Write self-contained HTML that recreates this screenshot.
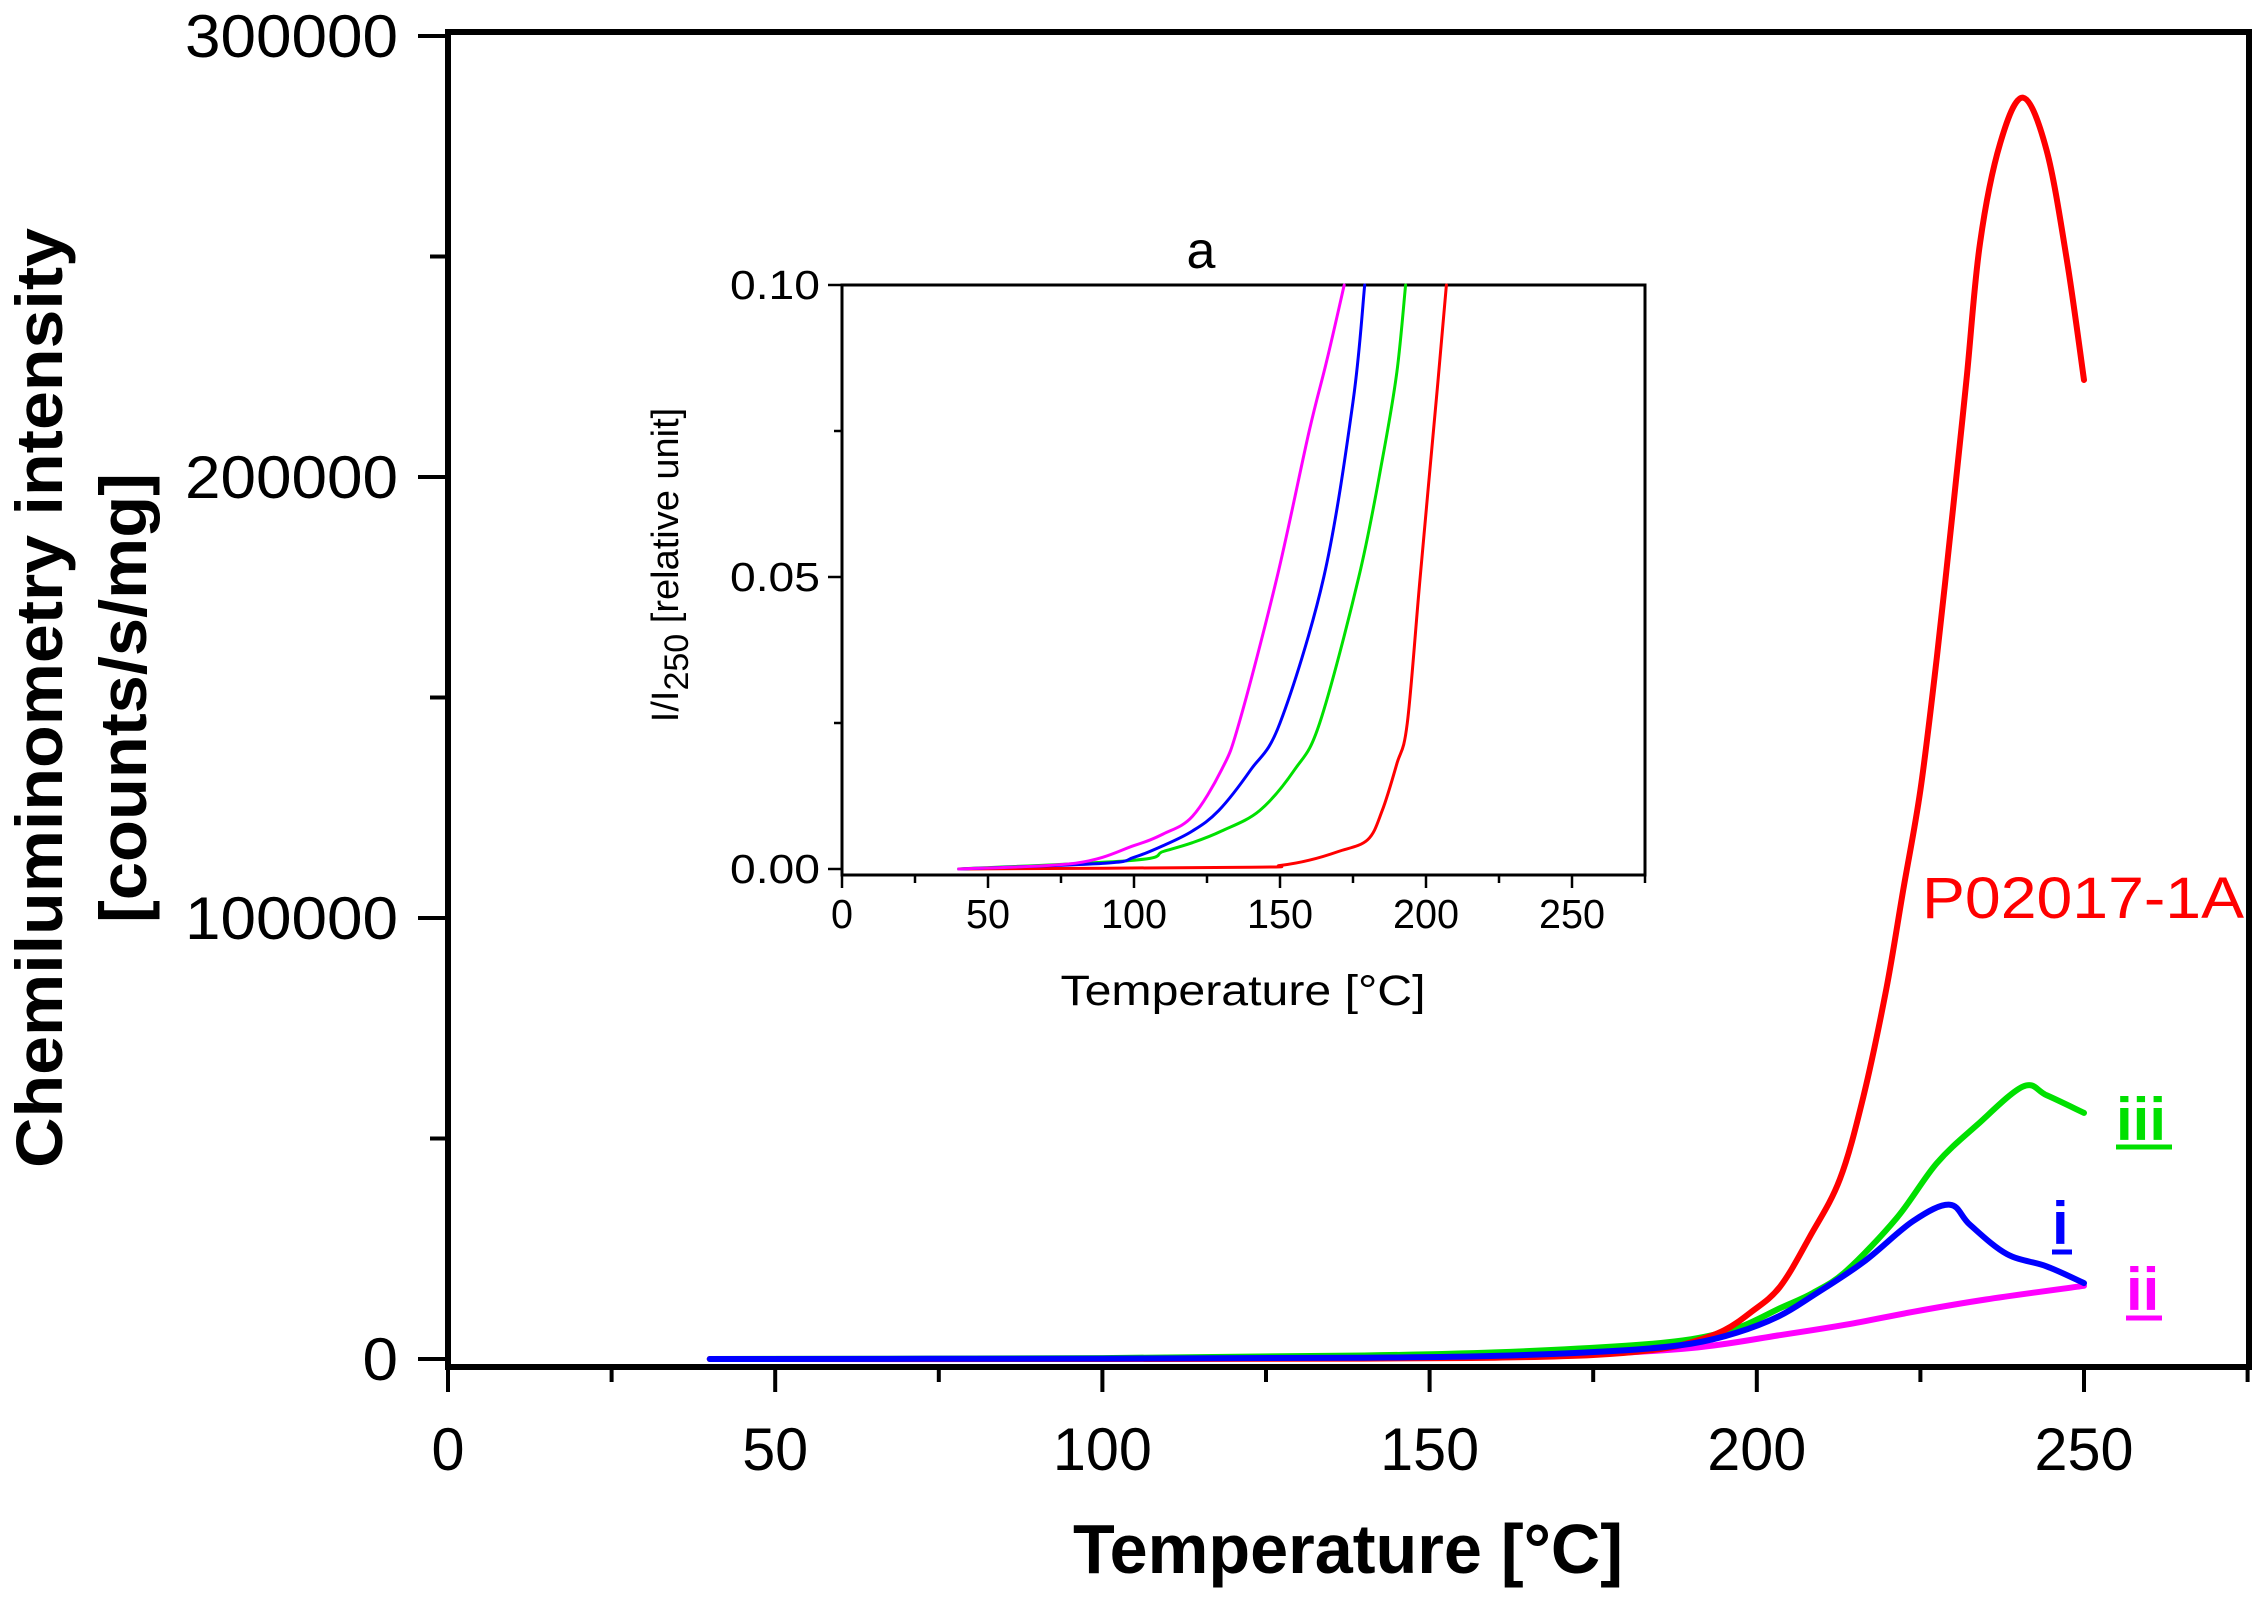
<!DOCTYPE html>
<html><head><meta charset="utf-8"><style>
html,body{margin:0;padding:0;background:#fff;}
svg{display:block;font-family:"Liberation Sans",Arial,sans-serif;}
</style></head><body>
<svg id="chart" width="2268" height="1602" viewBox="0 0 2268 1602">
<g id="main"></g>
<g id="inset"></g>
</svg>
<script>
// ---- main chart data (intensity, counts/s/mg) ----
const redX = [40,100,140,160,175,185,190,195,199,203.5,208.1,212.7,216.3,219.8,222.4,225,227.5,230,232.1,234.1,237.2,240.7,244.3,247.4,250];
const redY = [0,0,100,300,900,2200,3800,6500,10500,16300,27700,40800,59600,84000,106600,129000,159000,193000,223000,253000,275700,286000,274000,249000,222000];
const greenX = [40,100,140,160,180,190,197,203.5,208.6,213.7,221.4,227.5,233.6,240.7,244.3,250];
const greenY = [0,200,800,1500,3000,4500,7000,11500,15000,20000,32000,44400,53000,61800,59800,55800];
const blueX = [40,100,140,160,180,190,197,203.5,208.6,216.3,223.9,229.5,232.6,238.2,244.3,250];
const blueY = [0,100,300,700,2000,3500,6000,9800,14400,22000,31300,35000,30400,23800,21000,17200];
const magentaX = [40,100,150,170,190,203.5,213.7,223.9,235,250];
const magentaY = [0,0,300,800,2500,5400,7800,10700,13500,16600];
const mainXTicks = [0,50,100,150,200,250];
const mainYTicks = [0,100000,200000,300000];
// ---- inset data (I/I250) ----
const insMagX = [40,80,100,110,120,130,136,149,160,166,172];
const insMagY = [0,0.001,0.004,0.006,0.009,0.017,0.025,0.05,0.075,0.087,0.1];
const insBlueX = [40,90,100,110,120,129,140,150,165,175,179];
const insBlueY = [0,0.001,0.002,0.004,0.0065,0.01,0.017,0.025,0.05,0.08,0.1];
const insGreenX = [40,100,110,120,130,143,155,163.6,177,185,190,193];
const insGreenY = [0,0.0015,0.003,0.0045,0.0065,0.01,0.017,0.025,0.05,0.07,0.085,0.1];
const insRedX = [40,140,150,160,170,180,185,190,193.6,198,204,207];
const insRedY = [0,0.0003,0.0006,0.0015,0.003,0.005,0.01,0.018,0.025,0.05,0.083,0.1];
const insXTicks = [0,50,100,150,200,250];
const insYTicks = [0,0.05,0.1];
const insYLabels = ["0.00","0.05","0.10"];

const NS = "http://www.w3.org/2000/svg";
function mk(tag, attrs, parent, txt){
  const e = document.createElementNS(NS, tag);
  for (const k in attrs) e.setAttribute(k, attrs[k]);
  if (txt !== undefined) e.textContent = txt;
  parent.appendChild(e); return e;
}
const mx = v => 448 + (v/250)*(2084-448);
const my = v => 1359 - (v/300000)*(1359-36);
const M = document.getElementById('main');
let el;
el = mk('rect',{x:448,y:32,width:1801,height:1335,fill:'none',stroke:'#000','stroke-width':6},M);


for (let v=0; v<=275; v+=25){
  el = mk('line',{x1:mx(v),x2:mx(v),y1:1367,y2:v%50===0?1392:1382,stroke:'#000','stroke-width':4},M);
  
  
}
for (let v=0; v<=300000; v+=50000){
  el = mk('line',{x1:448,x2:v%100000===0?418:430,y1:my(v),y2:my(v),stroke:'#000','stroke-width':4},M);
  
  
}
mainXTicks.forEach(v=>{
  const s=String(v);
  el = mk('text',{x:mx(v),y:1470,'font-size':60,'text-anchor':'middle',textLength:s.length*33,lengthAdjust:'spacingAndGlyphs'},M,s);
  
  
});
mainYTicks.forEach(v=>{
  const s=String(v);
  el = mk('text',{x:398-s.length*35.5,y:my(v)+21,'font-size':60,textLength:s.length*35.5,lengthAdjust:'spacingAndGlyphs'},M,s);
  
  
});
el = mk('text',{x:1348,y:1573,'font-size':70,'font-weight':'bold','text-anchor':'middle',textLength:550,lengthAdjust:'spacingAndGlyphs'},M,'Temperature [°C]');


el = mk('text',{x:0,y:0,'font-size':66,'font-weight':'bold','text-anchor':'middle',transform:'translate(62,698) rotate(-90)',textLength:940,lengthAdjust:'spacingAndGlyphs'},M,'Chemiluminometry intensity');


el = mk('text',{x:0,y:0,'font-size':66,'font-weight':'bold','text-anchor':'middle',transform:'translate(146,698) rotate(-90)',textLength:450,lengthAdjust:'spacingAndGlyphs'},M,'[counts/s/mg]');


function series(g, xs, ys, fx, fy, color, w, name){
  const P = xs.map((x,i)=>[fx(x), fy(ys[i])]);
  let d = 'M'+P[0][0].toFixed(1)+','+P[0][1].toFixed(1);
  for (let i=0;i<P.length-1;i++){
    const p0=P[Math.max(0,i-1)], p1=P[i], p2=P[i+1], p3=P[Math.min(P.length-1,i+2)];
    const c1=[p1[0]+(p2[0]-p0[0])/6, p1[1]+(p2[1]-p0[1])/6];
    const c2=[p2[0]-(p3[0]-p1[0])/6, p2[1]-(p3[1]-p1[1])/6];
    d += ' C'+c1[0].toFixed(1)+','+c1[1].toFixed(1)+' '+c2[0].toFixed(1)+','+c2[1].toFixed(1)+' '+p2[0].toFixed(1)+','+p2[1].toFixed(1);
  }
  const p = mk('path',{d:d,fill:'none',stroke:color,'stroke-width':w,'stroke-linejoin':'round','stroke-linecap':'round'},g);
  
  
}
series(M, magentaX, magentaY, mx, my, '#ff00ff', 6, 'series-ii-line');
series(M, greenX, greenY, mx, my, '#00e000', 6, 'series-iii-line');
series(M, redX, redY, mx, my, '#ff0000', 6, 'series-p02017-1a-line');
series(M, blueX, blueY, mx, my, '#0000ff', 6, 'series-i-line');
el = mk('text',{x:1922,y:918,'font-size':58,fill:'#ff0000',textLength:322,lengthAdjust:'spacingAndGlyphs'},M,'P02017-1A');


el = mk('text',{x:2116,y:1140,'font-size':60,'font-weight':'bold',fill:'#00e000'},M,'iii');


el = mk('line',{x1:2116,x2:2172,y1:1147,y2:1147,stroke:'#00e000','stroke-width':5},M);


el = mk('text',{x:2052,y:1244,'font-size':60,'font-weight':'bold',fill:'#0000ff'},M,'i');


el = mk('line',{x1:2052,x2:2072,y1:1252,y2:1252,stroke:'#0000ff','stroke-width':5},M);


el = mk('text',{x:2126,y:1310,'font-size':60,'font-weight':'bold',fill:'#ff00ff'},M,'ii');


el = mk('line',{x1:2126,x2:2162,y1:1318,y2:1318,stroke:'#ff00ff','stroke-width':5},M);



// inset
const ix = v => 842 + (v/250)*(1572-842);
const iy = v => 869 - (v/0.1)*(869-285);
const I = document.getElementById('inset');
el = mk('rect',{x:842,y:285,width:803,height:590,fill:'#fff',stroke:'#000','stroke-width':3},I);


for (let v=0; v<=275; v+=25){
  el = mk('line',{x1:ix(v),x2:ix(v),y1:875,y2:v%50===0?888:883,stroke:'#000','stroke-width':2.5},I);
  
  
}
for (let v=0; v<=4; v++){
  const val=v*0.025;
  el = mk('line',{x1:842,x2:v%2===0?828:834,y1:iy(val),y2:iy(val),stroke:'#000','stroke-width':2.5},I);
  
  
}
insXTicks.forEach(v=>{
  const s=String(v);
  el = mk('text',{x:ix(v),y:928,'font-size':41,'text-anchor':'middle',textLength:s.length*22,lengthAdjust:'spacingAndGlyphs'},I,s);
  
  
});
insYTicks.forEach((v,i)=>{
  el = mk('text',{x:820,y:iy(v)+14,'font-size':41,'text-anchor':'end',textLength:90,lengthAdjust:'spacingAndGlyphs'},I,insYLabels[i]);
  
  
});
el = mk('text',{x:1243,y:1005,'font-size':43,'text-anchor':'middle',textLength:365,lengthAdjust:'spacingAndGlyphs'},I,'Temperature [°C]');


el = mk('text',{x:0,y:0,'font-size':38,'text-anchor':'middle',transform:'translate(678,565) rotate(-90)'},I);


mk('tspan',{},el,'I/I');
mk('tspan',{dy:10,'font-size':34},el,'250');
mk('tspan',{dy:-10},el,' [relative unit]');
el = mk('text',{x:1201,y:268,'font-size':52,'text-anchor':'middle'},I,'a');


series(I, insRedX, insRedY, ix, iy, '#ff0000', 3, 'inset-red-line');
series(I, insGreenX, insGreenY, ix, iy, '#00e000', 3, 'inset-green-line');
series(I, insBlueX, insBlueY, ix, iy, '#0000ff', 3, 'inset-blue-line');
series(I, insMagX, insMagY, ix, iy, '#ff00ff', 3, 'inset-magenta-line');
</script>
</body></html>
